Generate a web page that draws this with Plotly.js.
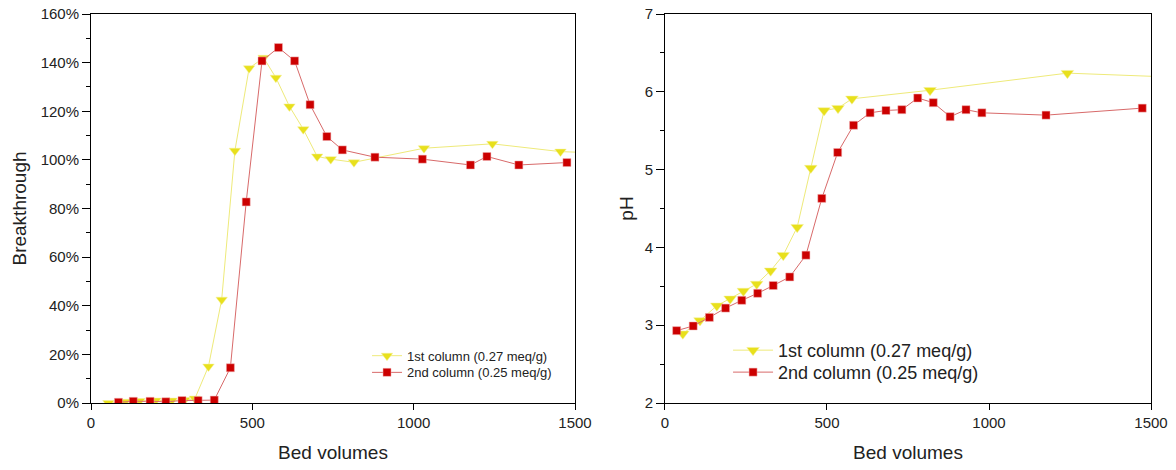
<!DOCTYPE html>
<html>
<head>
<meta charset="utf-8">
<script src="https://cdn.plot.ly/plotly-3.0.1.min.js"></script>
<style>html,body{margin:0;padding:0;background:#fff}#chart{width:1176px;height:470px}</style>
</head>
<body>
<div id="chart"></div>
<script>
// Breakthrough (%) vs bed volumes
const bt1_x = [54, 105, 150, 200, 250, 290, 322, 364, 405, 446, 490, 535, 573, 615, 658, 701, 743, 815, 1032, 1244, 1455, 1540];
const bt1_y = [0, 0.5, 0.8, 1.0, 1.0, 1.2, 1.8, 15.0, 42.5, 103.8, 137.7, 142.0, 133.8, 122.0, 112.6, 101.4, 100.3, 99.0, 104.8, 106.6, 103.4, 103.0];
const bt2_x = [85, 131, 183, 232, 282, 332, 382, 432, 481, 530, 581, 631, 679, 731, 779, 880, 1027, 1176, 1227, 1326, 1475];
const bt2_y = [0.3, 0.7, 0.7, 0.5, 1.0, 1.0, 1.2, 14.5, 82.7, 140.7, 146.2, 140.7, 122.7, 109.6, 104.1, 101.1, 100.3, 97.9, 101.4, 97.9, 98.9];
// pH vs bed volumes
const ph1_x = [55, 108, 160, 201, 242, 283, 326, 365, 408, 450, 491, 534, 577, 818, 1242, 1560];
const ph1_y = [2.89, 3.06, 3.25, 3.34, 3.44, 3.53, 3.70, 3.90, 4.26, 5.02, 5.76, 5.79, 5.91, 6.02, 6.24, 6.19];
const ph2_x = [36, 87, 137, 187, 237, 286, 334, 385, 435, 484, 533, 582, 633, 682, 731, 780, 828, 880, 929, 978, 1176, 1473];
const ph2_y = [2.93, 2.99, 3.10, 3.22, 3.32, 3.41, 3.51, 3.62, 3.90, 4.63, 5.22, 5.57, 5.73, 5.76, 5.77, 5.92, 5.86, 5.68, 5.77, 5.73, 5.70, 5.79];
const names = ['1st column (0.27 meq/g)', '2nd column (0.25 meq/g)'];

const yel = '#e8e01c', yelLine = '#eeea7a';
const red = '#cc0000', redLine = '#d86a6a';
const FONT = 'Liberation Sans, Arial, sans-serif';
const tc = '#222';

function tri(x, y, xa, ya, lg, sz) {
  return {x, y, xaxis: xa, yaxis: ya, legend: lg, name: names[0], type: 'scatter', mode: 'lines+markers',
    line: {color: yelLine, width: 1}, cliponaxis: true,
    marker: {symbol: 'triangle-down', size: sz, color: yel, line: {color: '#f4f0a0', width: 0.5}}};
}
function sq(x, y, xa, ya, lg, sz) {
  return {x, y, xaxis: xa, yaxis: ya, legend: lg, name: names[1], type: 'scatter', mode: 'lines+markers',
    line: {color: redLine, width: 1}, cliponaxis: true,
    marker: {symbol: 'square', size: sz, color: red, line: {color: '#f0b0b0', width: 0.5}}};
}

const data = [
  tri(bt1_x, bt1_y, 'x', 'y', 'legend', 10),
  sq(bt2_x, bt2_y, 'x', 'y', 'legend2', 8),
  tri(ph1_x, ph1_y, 'x2', 'y2', 'legend3', 11),
  sq(ph2_x, ph2_y, 'x2', 'y2', 'legend4', 8)
];

const xCommon = {range: [0, 1500], tickvals: [0, 500, 1000, 1500], ticks: 'outside', ticklen: 6, tickwidth: 1,
  tickcolor: '#000', showline: true, linecolor: '#000', linewidth: 1, mirror: true, showgrid: false, zeroline: false,
  tickfont: {family: FONT, size: 15, color: tc},
  title: {text: 'Bed volumes', font: {family: FONT, size: 19, color: tc}, standoff: 15}};

function lg(x, y, size, w) {
  return {x, y, xanchor: 'left', yanchor: 'middle', bgcolor: 'rgba(255,255,255,0)',
    font: {family: FONT, size: size, color: tc}, itemwidth: w};
}

const layout = {
  width: 1176, height: 470,
  margin: {l: 91, r: 25, t: 14, b: 67},
  paper_bgcolor: '#fff', plot_bgcolor: '#fff',
  showlegend: true,
  xaxis: Object.assign({}, xCommon, {domain: [0, 0.4566], anchor: 'y'}),
  yaxis: {domain: [0, 1], anchor: 'x', range: [0, 160], dtick: 20, ticksuffix: '%', ticks: 'outside', ticklen: 8,
    tickcolor: '#000', showline: true, linecolor: '#000', mirror: true, showgrid: false, zeroline: false,
    minor: {dtick: 10, ticks: 'outside', ticklen: 4, tickcolor: '#000', showgrid: false},
    tickfont: {family: FONT, size: 15, color: tc},
    title: {text: 'Breakthrough', font: {family: FONT, size: 19, color: tc}, standoff: 8}},
  yaxis3: {overlaying: 'y', anchor: 'x', side: 'right', range: [0, 160], dtick: 10, ticks: 'inside', ticklen: 3,
    tickcolor: '#000', showticklabels: false, showgrid: false, zeroline: false, showline: false},
  xaxis2: Object.assign({}, xCommon, {domain: [0.5415, 1], anchor: 'y2'}),
  yaxis2: {domain: [0, 1], anchor: 'x2', range: [2, 7], dtick: 1, ticks: 'outside', ticklen: 8,
    tickcolor: '#000', showline: true, linecolor: '#000', mirror: true, showgrid: false, zeroline: false,
    minor: {dtick: 0.5, ticks: 'outside', ticklen: 4, tickcolor: '#000', showgrid: false},
    tickfont: {family: FONT, size: 15, color: tc},
    title: {text: 'pH', font: {family: FONT, size: 19, color: tc}, standoff: 5}},
  yaxis4: {overlaying: 'y2', anchor: 'x2', side: 'right', range: [2, 7], dtick: 0.5, ticks: 'inside', ticklen: 3,
    tickcolor: '#000', showticklabels: false, showgrid: false, zeroline: false, showline: false},
  legend: lg(0.2604, 0.1215, 13, 30),
  legend2: lg(0.2604, 0.0786, 13, 30),
  legend3: lg(0.601, 0.1351, 18, 40),
  legend4: lg(0.601, 0.0786, 18, 40)
};

Plotly.newPlot('chart', data, layout, {displayModeBar: false, staticPlot: true});
</script>
</body>
</html>
